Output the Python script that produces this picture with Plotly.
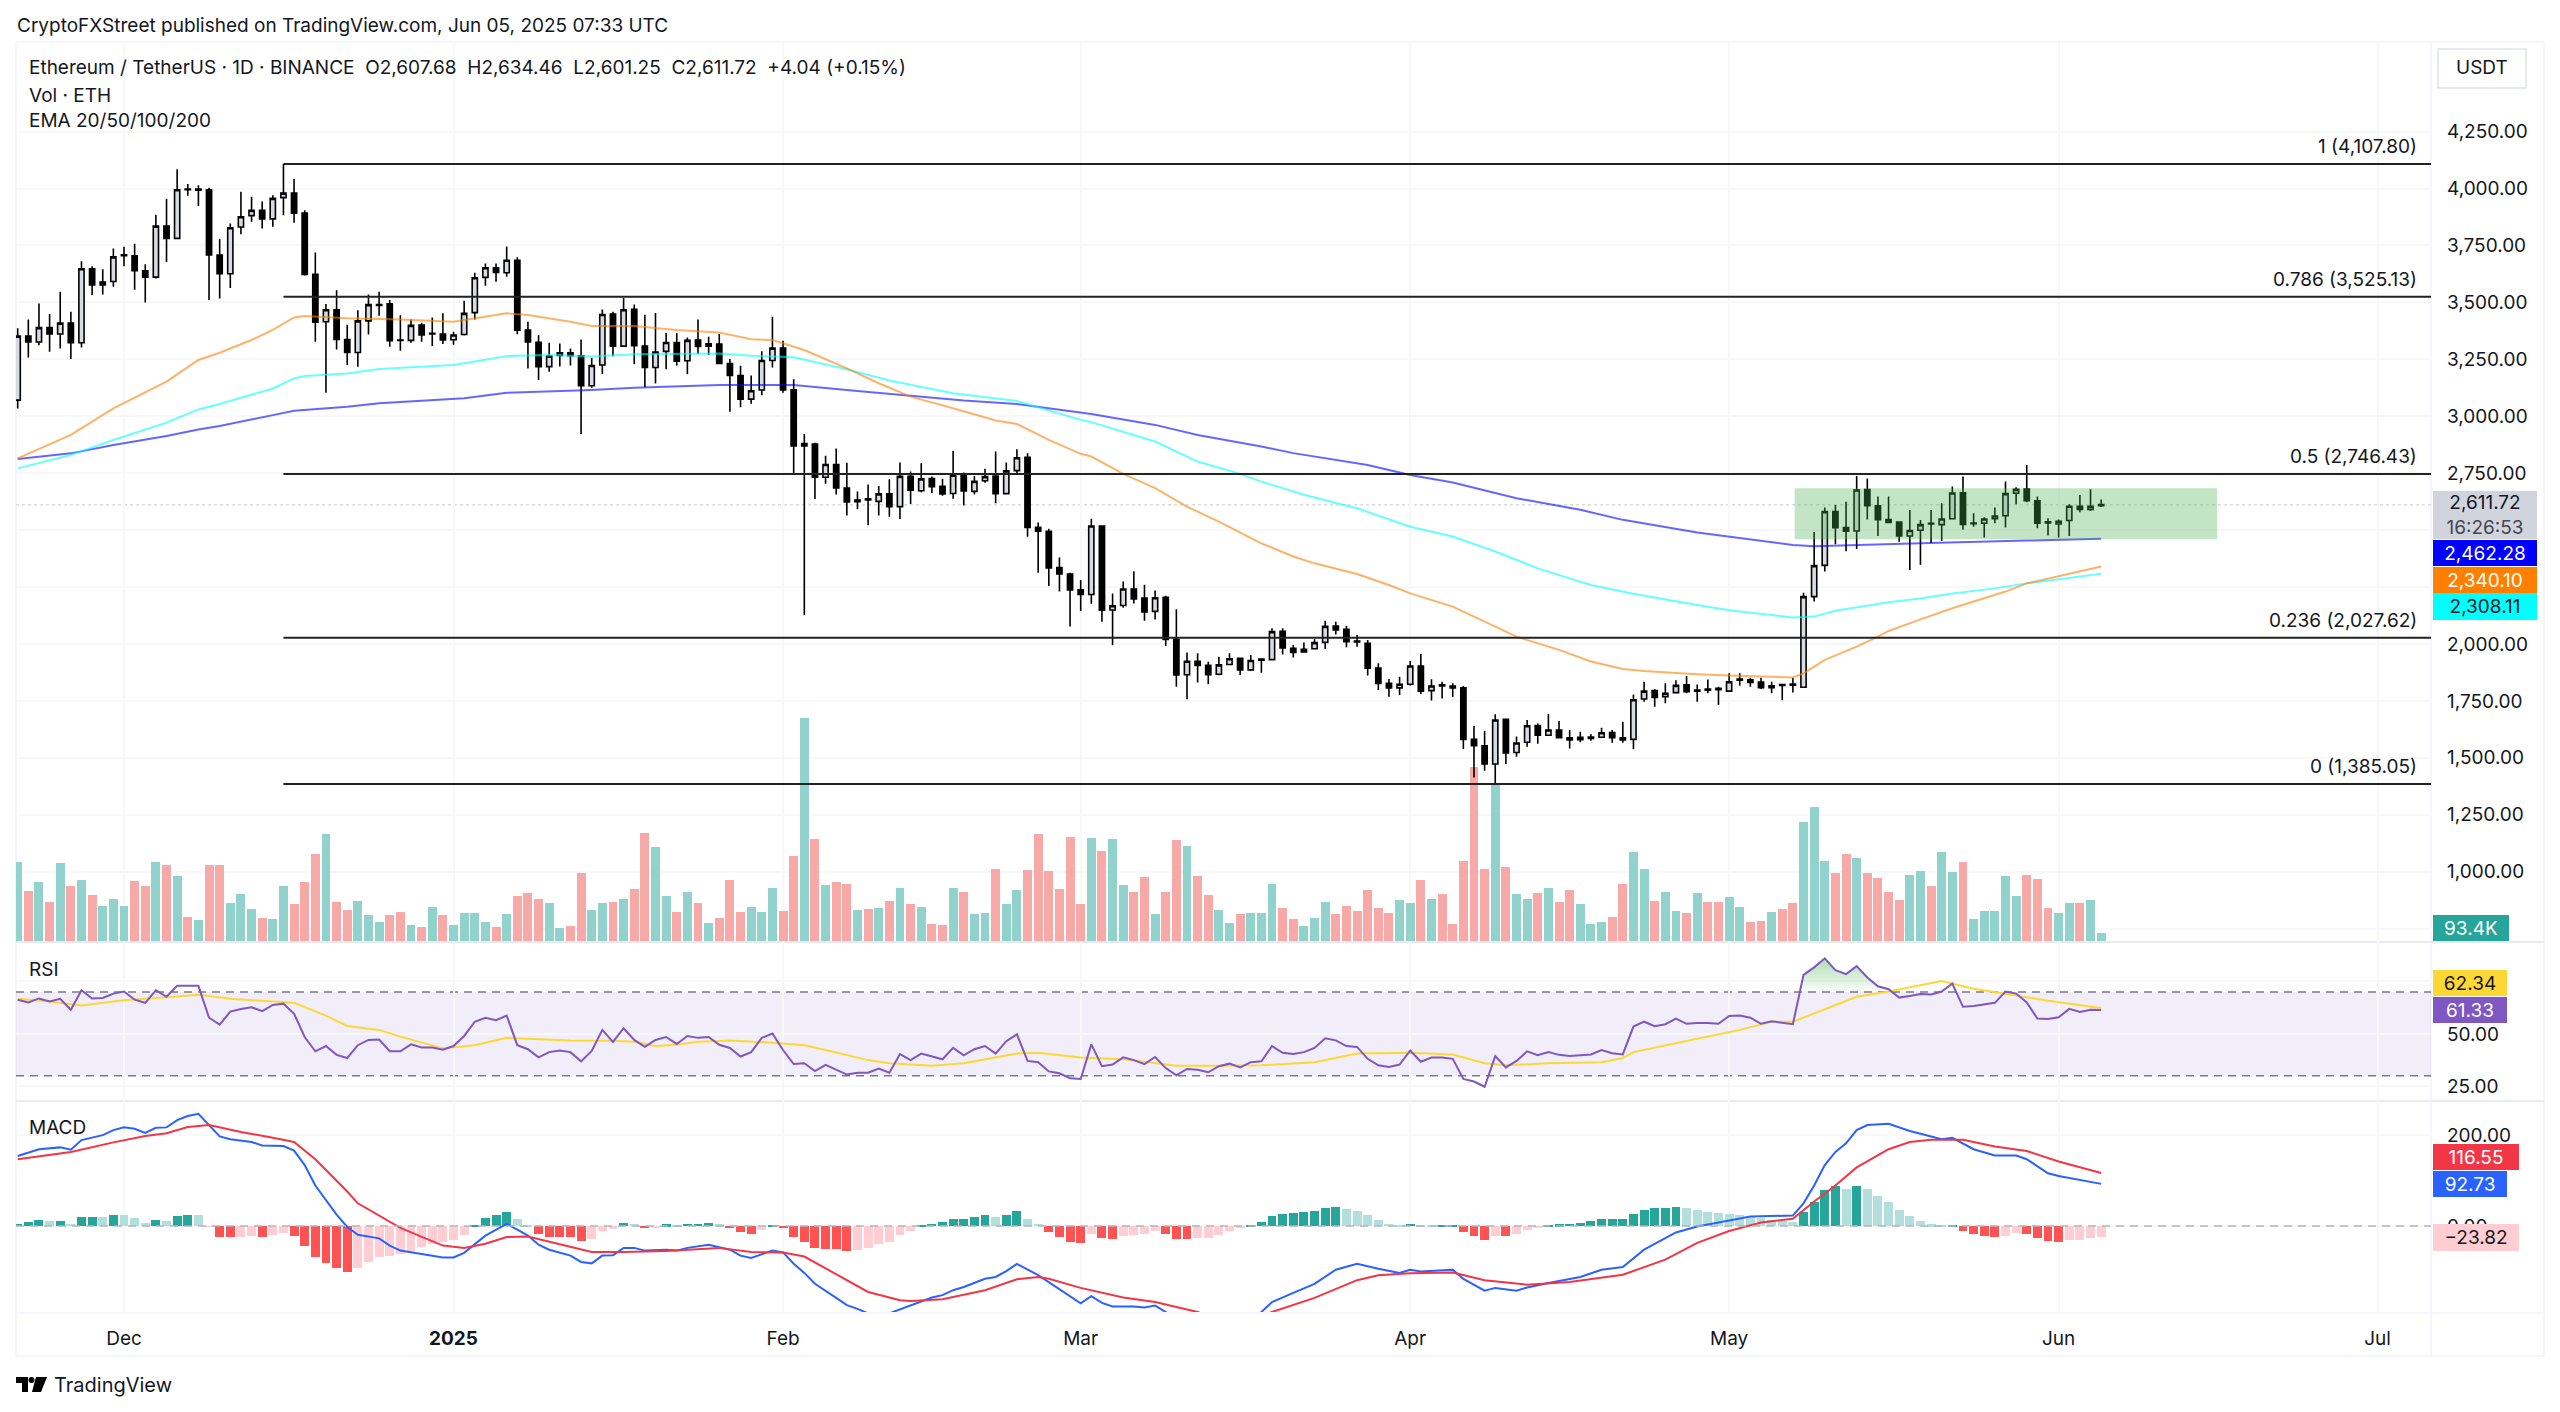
# Ethereum / TetherUS daily chart with EMA, volume, RSI and MACD panes
import pandas as pd
import plotly.graph_objects as go

W, H = 2560, 1412

# candles start on Nov 21 2024, one per day up to Jun 5 2025
days = pd.date_range("2024-11-21", periods=197, freq="D")
day0 = pd.Timestamp("2024-12-01")

opens = [
    3071, 3352, 3326, 3389, 3361, 3409, 3323, 3648, 3577, 3592,
    3705, 3705, 3639, 3611, 3835, 3781, 3995, 3998, 3995, 3708,
    3626, 3831, 3881, 3904, 3867, 3960, 3980, 3892, 3623, 3415,
    3468, 3337, 3280, 3419, 3487, 3494, 3335, 3333, 3400, 3364,
    3361, 3336, 3359, 3455, 3610, 3652, 3630, 3685, 3378, 3325,
    3218, 3267, 3279, 3265, 3134, 3225, 3449, 3308, 3470, 3308,
    3214, 3285, 3324, 3244, 3335, 3318, 3317, 3231, 3179, 3075,
    3115, 3245, 3299, 3116, 2869, 2878, 2732, 2788, 2685, 2632,
    2632, 2626, 2659, 2603, 2736, 2673, 2726, 2692, 2661, 2742,
    2670, 2717, 2737, 2660, 2761, 2820, 2512, 2495, 2335, 2307,
    2238, 2217, 2518, 2149, 2169, 2241, 2202, 2143, 2205, 2020,
    1865, 1924, 1906, 1867, 1910, 1937, 1886, 1929, 1931, 2055,
    1981, 1965, 1979, 2007, 2079, 2064, 2013, 2003, 1894, 1827,
    1807, 1823, 1903, 1795, 1815, 1815, 1807, 1581, 1553, 1473,
    1669, 1523, 1568, 1642, 1599, 1622, 1588, 1580, 1585, 1590,
    1611, 1588, 1581, 1758, 1795, 1768, 1786, 1821, 1793, 1797,
    1799, 1793, 1841, 1842, 1833, 1816, 1818, 1819, 1810, 2208,
    2345, 2581, 2511, 2496, 2678, 2607, 2546, 2535, 2474, 2499,
    2527, 2524, 2550, 2664, 2531, 2530, 2550, 2563, 2662, 2680,
    2629, 2531, 2527, 2542, 2605, 2591, 2607.68,
]
highs = [
    3386, 3425, 3495, 3449, 3547, 3459, 3681, 3659, 3646, 3737,
    3744, 3758, 3667, 3885, 3955, 4085, 4020, 4015, 4003, 3778,
    3847, 3986, 3964, 3943, 3971, 4107.8, 4042, 3905, 3719, 3493,
    3553, 3402, 3466, 3535, 3547, 3510, 3444, 3425, 3411, 3434,
    3452, 3371, 3507, 3630, 3671, 3671, 3745, 3698, 3415, 3357,
    3323, 3320, 3298, 3337, 3257, 3469, 3459, 3522, 3491, 3446,
    3453, 3367, 3364, 3346, 3425, 3349, 3361, 3251, 3222, 3179,
    3285, 3437, 3332, 3162, 2922, 2884, 2827, 2858, 2796, 2669,
    2700, 2694, 2723, 2797, 2757, 2794, 2735, 2726, 2849, 2753,
    2738, 2769, 2845, 2797, 2855, 2837, 2533, 2506, 2380, 2313,
    2281, 2550, 2521, 2222, 2274, 2319, 2260, 2235, 2212, 2152,
    1962, 1959, 1922, 1944, 1959, 1941, 1951, 1934, 2069, 2069,
    1995, 2006, 2022, 2102, 2098, 2080, 2039, 2017, 1915, 1846,
    1856, 1925, 1956, 1845, 1834, 1827, 1815, 1640, 1619, 1691,
    1672, 1593, 1666, 1651, 1692, 1662, 1622, 1614, 1603, 1632,
    1622, 1658, 1778, 1834, 1802, 1827, 1841, 1859, 1822, 1844,
    1812, 1871, 1871, 1852, 1852, 1834, 1822, 1852, 2225, 2492,
    2599, 2610, 2624, 2738, 2727, 2647, 2647, 2537, 2588, 2544,
    2588, 2618, 2691, 2735, 2574, 2556, 2599, 2713, 2688, 2786,
    2647, 2552, 2547, 2613, 2654, 2679, 2634.46,
]
lows = [
    3034, 3258, 3312, 3283, 3298, 3251, 3302, 3532, 3535, 3569,
    3659, 3556, 3500, 3605, 3677, 3778, 3968, 3923, 3510, 3517,
    3563, 3799, 3854, 3825, 3832, 3883, 3850, 3618, 3327, 3103,
    3293, 3225, 3217, 3359, 3441, 3305, 3288, 3323, 3327, 3308,
    3317, 3314, 3355, 3425, 3573, 3591, 3613, 3360, 3210, 3159,
    3195, 3218, 3223, 2922, 3125, 3185, 3264, 3305, 3228, 3127,
    3144, 3206, 3223, 3184, 3273, 3269, 3232, 3020, 3040, 3055,
    3092, 3214, 3103, 2749, 2127, 2637, 2703, 2656, 2564, 2591,
    2521, 2564, 2559, 2549, 2615, 2666, 2663, 2651, 2638, 2608,
    2656, 2708, 2618, 2656, 2746, 2471, 2313, 2255, 2230, 2077,
    2145, 2176, 2098, 1994, 2159, 2178, 2102, 2107, 1991, 1812,
    1757, 1831, 1823, 1863, 1907, 1864, 1881, 1874, 1929, 1954,
    1940, 1963, 1976, 1978, 2041, 1985, 1988, 1861, 1798, 1768,
    1776, 1818, 1780, 1752, 1760, 1767, 1539, 1413, 1443, 1385.05,
    1473, 1505, 1549, 1562, 1597, 1587, 1541, 1568, 1575, 1588,
    1566, 1566, 1538, 1746, 1724, 1739, 1783, 1783, 1746, 1783,
    1732, 1790, 1816, 1812, 1802, 1783, 1753, 1787, 1808, 2186,
    2318, 2438, 2407, 2417, 2547, 2474, 2533, 2449, 2325, 2348,
    2443, 2452, 2547, 2501, 2515, 2467, 2530, 2511, 2613, 2622,
    2508, 2476, 2468, 2474, 2578, 2584, 2601.25,
]
closes = [
    3352, 3326, 3389, 3361, 3409, 3323, 3648, 3577, 3589, 3700,
    3709, 3639, 3611, 3835, 3781, 3995, 3998, 3993, 3708, 3626,
    3828, 3876, 3904, 3867, 3957, 3980, 3892, 3623, 3413, 3468,
    3337, 3280, 3419, 3490, 3490, 3332, 3333, 3399, 3357, 3361,
    3335, 3357, 3452, 3608, 3652, 3632, 3685, 3378, 3326, 3218,
    3264, 3279, 3266, 3134, 3223, 3447, 3308, 3468, 3310, 3214,
    3282, 3324, 3242, 3333, 3307, 3308, 3232, 3179, 3075, 3112,
    3245, 3299, 3116, 2869, 2880, 2732, 2788, 2685, 2624, 2625,
    2637, 2659, 2603, 2736, 2675, 2725, 2691, 2659, 2741, 2672,
    2714, 2735, 2660, 2760, 2818, 2512, 2495, 2334, 2307, 2237,
    2217, 2518, 2148, 2168, 2241, 2198, 2140, 2203, 2020, 1864,
    1924, 1906, 1865, 1908, 1935, 1886, 1927, 1934, 2054, 1982,
    1963, 1976, 2006, 2077, 2061, 2010, 2009, 1894, 1827, 1807,
    1823, 1903, 1793, 1815, 1821, 1807, 1581, 1553, 1473, 1666,
    1521, 1565, 1641, 1599, 1622, 1588, 1578, 1590, 1591, 1610,
    1588, 1578, 1755, 1793, 1765, 1783, 1818, 1790, 1797, 1802,
    1805, 1834, 1846, 1831, 1808, 1808, 1822, 1824, 2208, 2344,
    2581, 2511, 2495, 2676, 2607, 2546, 2534, 2474, 2498, 2524,
    2530, 2549, 2663, 2525, 2528, 2549, 2562, 2660, 2679, 2629,
    2530, 2536, 2539, 2605, 2591, 2605, 2611.72,
]

# volume in thousands of ETH, t = green bar, r = red bar
volume = [
    916, 578, 691, 456, 902, 644, 714, 540, 409, 484,
    409, 696, 644, 916, 888, 761, 282, 249, 888, 888,
    447, 550, 376, 268, 259, 644, 432, 686, 1015, 1246,
    456, 357, 470, 306, 221, 301, 338, 183, 160, 400,
    301, 188, 329, 329, 226, 165, 320, 522, 559, 484,
    437, 155, 174, 794, 362, 447, 456, 494, 606, 1260,
    1090, 522, 338, 573, 437, 207, 263, 714, 338, 395,
    338, 616, 348, 987, 2590, 1184, 649, 686, 658, 362,
    376, 385, 470, 611, 432, 400, 197, 188, 611, 573,
    320, 329, 841, 432, 588, 827, 1241, 818, 606, 1213,
    428, 1194, 1043, 1180, 649, 569, 743, 320, 573, 1175,
    1100, 752, 540, 362, 207, 320, 329, 329, 658, 390,
    254, 174, 263, 456, 320, 409, 348, 597, 390, 324,
    475, 437, 714, 484, 550, 197, 926, 2021, 841, 1838,
    865, 550, 484, 559, 616, 456, 588, 428, 202, 226,
    277, 658, 1034, 841, 465, 569, 348, 329, 555, 456,
    456, 512, 395, 221, 235, 338, 371, 437, 1387, 1560,
    926, 785, 1006, 964, 785, 729, 573, 479, 766, 813,
    639, 1034, 804, 916, 254, 348, 353, 761, 526, 766,
    719, 381, 329, 447, 437, 479, 93.4,
]
volume_side = (
    "t r t r t r t r t t "
    "t r r t r t r t r r "
    "t t t r t t r r r t "
    "r r t t t r r t r t "
    "r t t t t r t r r r "
    "t t r r t t r t r r "
    "t t r t r t r r r t "
    "t t r r t r t r r t "
    "r t r t r t r r t r "
    "t t r t t r r r r r "
    "r t r t t r r t r r "
    "t r r t t r t t t r "
    "r t t t r r r r r r "
    "t t r t r r r r r t "
    "r t t r t r r t t t "
    "r r t t r t t r t r "
    "r t t r r t r r t t "
    "t r r t r r r r t t "
    "r t t r t t t t t r "
    "r r t t r t t"
).split()

# EMA lines, read every few days (offset in days from Dec 1)
ema50_days = [-10, -5, -1, 4, 7, 9, 12, 14, 16, 17, 21, 26, 31, 33, 36, 38, 42, 44, 48, 52, 56, 59, 61, 64, 68,
              71, 74, 78, 82, 84, 87, 90, 91, 94, 97, 100, 103, 107, 110, 112, 116, 119, 121, 125, 128, 131, 135,
              138, 141, 143, 148, 151, 157, 158, 160, 163, 165, 166, 169, 172, 177, 179, 186]
ema50 = [2815, 2918, 3035, 3152, 3247, 3279, 3335, 3379, 3434, 3440, 3430, 3425, 3415, 3430, 3452, 3445, 3415, 3396,
         3396, 3379, 3368, 3338, 3335, 3291, 3210, 3145, 3086, 3035, 2981, 2966, 2896, 2835, 2823, 2747, 2684, 2603,
         2537, 2442, 2384, 2354, 2307, 2259, 2222, 2164, 2098, 2032, 1974, 1923, 1890, 1881, 1867, 1861, 1853, 1871,
         1930, 1988, 2032, 2057, 2108, 2157, 2230, 2266, 2340.1]
ema100_days = [-10, -5, -1, 4, 7, 9, 14, 16, 17, 21, 24, 31, 33, 36, 40, 44, 48, 56, 59, 63, 68, 72, 78, 84, 90, 91,
               97, 101, 105, 107, 111, 116, 121, 125, 129, 133, 138, 142, 148, 151, 157, 159, 161, 166, 169, 172,
               176, 179, 186]
ema100 = [2771, 2830, 2896, 2972, 3030, 3054, 3122, 3166, 3177, 3188, 3207, 3225, 3240, 3264, 3269, 3262, 3272, 3276,
          3266, 3259, 3206, 3157, 3101, 3067, 2984, 2974, 2889, 2801, 2747, 2713, 2655, 2596, 2515, 2472, 2406, 2332,
          2259, 2220, 2171, 2148, 2116, 2120, 2146, 2183, 2200, 2222, 2244, 2266, 2308.11]
ema200_days = [-10, -5, -1, 4, 7, 9, 14, 16, 21, 24, 32, 36, 44, 48, 56, 63, 69, 74, 79, 84, 91, 97, 101, 107, 110,
               117, 121, 125, 131, 137, 141, 148, 157, 159, 163, 169, 179, 186]
ema200 = [2812, 2837, 2874, 2913, 2942, 2957, 3005, 3024, 3042, 3057, 3079, 3103, 3115, 3125, 3137, 3137, 3111, 3091,
          3069, 3054, 3010, 2962, 2918, 2867, 2838, 2786, 2742, 2709, 2640, 2589, 2545, 2489, 2435, 2429, 2435, 2442,
          2454, 2462.28]

# RSI, one value per candle
rsi = [
    66.3, 65, 66.9, 65.4, 66.7, 61.5, 70.8, 66.9, 67.1, 69.2,
    70.2, 66.3, 64.8, 70.8, 67.7, 72.9, 72.9, 72.9, 57.7, 54.4,
    60.6, 61.9, 62.7, 60.8, 63.8, 64.4, 59.6, 48.5, 41.7, 44.2,
    40, 38.5, 44.6, 47.1, 47.3, 41.7, 41.7, 45, 43.5, 43.5,
    42.5, 44.2, 49, 55.8, 57.7, 56.5, 58.7, 44.6, 42.7, 38.8,
    41.3, 42.1, 41.3, 36.9, 41.9, 51.9, 46.2, 52.7, 47.1, 43.8,
    47.1, 48.5, 45.2, 49, 48.1, 48.5, 44.8, 43.3, 39.2, 41.3,
    48.1, 50.2, 42.3, 35.6, 36, 32.3, 35.2, 32.7, 30.6, 31.5,
    31.5, 33.5, 31.5, 40.4, 37.5, 40.6, 39.2, 37.9, 43.3, 39.8,
    42.7, 44.2, 40.6, 46.5, 49.8, 37.1, 36.5, 32.1, 31.2, 28.8,
    28.5, 45, 34.6, 35.4, 38.8, 37.5, 35.6, 39, 33.7, 30.2,
    33.3, 32.9, 31.7, 34.6, 35.8, 34, 36.5, 36.9, 44.2, 41,
    40.4, 41.3, 43.3, 47.9, 46.9, 44.2, 43.8, 38.1, 35, 34.2,
    35.4, 42.1, 36.7, 38.7, 38.7, 38.1, 28.5, 27.3, 24.8, 39.4,
    34, 37.1, 41.7, 39.8, 41.3, 40, 39.4, 39.8, 40.2, 42.3,
    40.8, 40.2, 53.5, 55.8, 53.7, 54.6, 57.3, 54.8, 55.2, 55.2,
    54.8, 58.5, 58.8, 57.7, 54.8, 56, 55.4, 54.6, 78.1, 81.7,
    86, 80.4, 78.5, 82.3, 76.9, 72.7, 71.3, 67.3, 68.1, 69,
    68.8, 70.2, 74, 62.9, 63.3, 64.2, 64.8, 70.2, 69.2, 65,
    57.3, 57.1, 57.9, 61.9, 60.4, 61.5, 61.33,
]
rsi_ma_days = [-10, -7, -4, 0, 3, 7, 10, 12, 16, 19, 21, 24, 26, 30, 33, 36, 38, 42, 46, 48, 50, 52, 54, 57, 61,
               64, 66, 70, 72, 76, 79, 84, 86, 90, 94, 99, 103, 107, 112, 116, 121, 125, 128, 130, 134, 139, 141,
               142, 148, 152, 155, 157, 163, 166, 171, 174, 178, 181, 186]
rsi_ma = [66.7, 65.4, 63.5, 66, 67.1, 68.7, 66.7, 66, 64.8, 58.7, 53.8, 51.9, 48.7, 43.1, 44.6, 48.1, 47.7, 46.9,
          46.7, 46.2, 44.2, 44.8, 46.2, 46.9, 45.8, 44.6, 42.3, 37.5, 36, 34.8, 36, 40.6, 41, 38.7, 37.9, 34.8, 34.8,
          35, 36.5, 40.6, 41, 40.2, 36, 35, 36, 36.5, 38.5, 41.3, 47.7, 51.9, 55.8, 55.8, 67.7, 70.2, 75.2, 71.5,
          68.3, 65.8, 62.34]

# MACD pane. The stretches below the pane are guesses, they only get clipped
macd_days = [-10, -8, -6, -5, -4, -2, -1, 0, 1, 2, 3, 4, 5, 6, 7, 8, 9, 10, 12, 13, 15, 16, 17, 18, 19, 20, 21, 22,
             24, 25, 26, 28, 30, 31, 32, 34, 35, 36, 37, 38, 39, 40, 42, 43, 44, 45, 46, 47, 48, 49, 51, 52, 53, 55,
             57, 58, 59, 61, 62, 63, 64, 65, 67, 68, 69, 70, 72, 74, 76, 77, 78, 79, 81, 82, 83, 84, 86, 90, 91, 92,
             93, 95, 96, 97, 98, 100, 102, 104, 106, 107, 108, 110, 112, 114, 116, 118, 120, 121, 122, 125, 126, 128,
             129, 131, 132, 134, 137, 139, 141, 143, 144, 146, 148, 150, 151, 153, 157, 158, 159, 160, 161, 162, 163,
             164, 166, 168, 170, 171, 172, 174, 176, 178, 179, 181, 182, 186]
macd_line = [154, 169, 173, 168, 189, 200, 211, 217, 214, 205, 216, 217, 233, 242, 247, 222, 197, 191, 185, 177, 176,
             166, 134, 89, 58, 25, -2, -19, -27, -43, -54, -62, -69, -69, -59, -21, -8, 5, -8, -21, -41, -52, -65, -79,
             -82, -65, -64, -48, -48, -54, -52, -54, -48, -41, -52, -65, -70, -54, -58, -83, -103, -127, -158, -174,
             -182, -192, -192, -174, -157, -152, -141, -134, -116, -112, -99, -83, -108, -170, -154, -169, -177, -177,
             -179, -175, -189, -225, -245, -245, -215, -189, -167, -147, -127, -96, -83, -94, -103, -96, -100, -96,
             -116, -142, -136, -142, -135, -125, -112, -96, -90, -52, -39, -14, -1, 7, 12, 21, 23, 50, 89, 134, 163,
             182, 211, 222, 225, 209, 196, 191, 194, 169, 155, 155, 147, 116, 110, 92.73]
signal_days = [-10, -5, -1, 2, 4, 6, 8, 11, 14, 16, 18, 21, 22, 25, 26, 30, 32, 34, 36, 38, 42, 44, 47, 51, 56, 59,
               62, 64, 70, 73, 74, 77, 81, 84, 86, 87, 90, 94, 97, 101, 104, 106, 108, 112, 116, 118, 121, 125, 128,
               132, 136, 141, 145, 148, 151, 154, 157, 159, 161, 163, 166, 168, 170, 173, 176, 179, 182, 186]
signal_line = [147, 163, 184, 198, 204, 218, 222, 207, 194, 185, 147, 76, 50, 10, -4, -43, -48, -39, -24, -23, -46,
               -57, -57, -55, -48, -57, -58, -67, -145, -163, -165, -161, -141, -117, -112, -116, -136, -157, -167,
               -189, -215, -205, -189, -158, -119, -108, -104, -102, -119, -129, -123, -107, -74, -37, -11, 8, 16, 54,
               89, 129, 169, 185, 190, 190, 175, 165, 142, 116.55]
macd_hist = [
    5, 8, 14, 11, 11, 5, 19, 20, 20, 24,
    24, 17, 7, 14, 12, 22, 24, 24, -2, -23,
    -25, -23, -21, -23, -20, -15, -21, -44, -69, -81,
    -92, -101, -92, -79, -68, -66, -62, -54, -46, -39,
    -36, -30, -19, 3, 17, 25, 32, 15, 3, -18,
    -23, -24, -24, -33, -29, -11, -6, 7, 5, -4,
    -3, 4, 2, 5, 5, 7, 4, -4, -14, -18,
    -8, 2, -5, -25, -34, -48, -50, -50, -55, -53,
    -49, -40, -35, -19, -11, 1, 5, 8, 16, 16,
    21, 25, 21, 25, 34, 16, 5, -12, -23, -34,
    -37, -18, -27, -29, -22, -20, -18, -11, -18, -28,
    -28, -27, -27, -19, -11, -5, 3, 10, 22, 27,
    29, 31, 33, 39, 41, 37, 34, 25, 14, 5,
    3, 5, 2, 3, 3, 3, -12, -21, -30, -21,
    -21, -17, -8, -4, 3, 4, 5, 7, 12, 15,
    15, 15, 27, 35, 39, 39, 42, 39, 35, 32,
    29, 27, 24, 21, 17, 14, 12, 9, 32, 53,
    80, 87, 82, 88, 81, 67, 53, 36, 22, 12,
    4, 2, 1, -11, -18, -22, -23, -21, -16, -18,
    -27, -32, -35, -31, -30, -27, -23.82,
]
# T strong green, L light green, R strong red, P pale red
hist_kind = (
    "T T T L T L T T L T "
    "L L L T L T T L P R "
    "R P P R P P R R R R "
    "R R P P P P P P P P "
    "P P P T T T T L L R "
    "R R R R P P P T L R "
    "P T L T T T L R R R "
    "P T R R R R R R R P "
    "P P P P P T T T T T "
    "T T L T T L L R R R "
    "R P R R P P P P R R "
    "R P P P P P T T T T "
    "T T T T T L L L L L "
    "L T L L T T R R R P "
    "R P P P T T T T T T "
    "T T T T T T T L L L "
    "L L L L L L L L T T "
    "T T L T L L L L L L "
    "L L T R R R R P P R "
    "R R R P P P P"
).split()

fib_levels = [4107.80, 3525.13, 2746.43, 2027.62, 1385.05]
fib_labels = ["1 (4,107.80)", "0.786 (3,525.13)", "0.5 (2,746.43)", "0.236 (2,027.62)", "0 (1,385.05)"]
fib_start = "2024-12-16"

# ticks that sit under a value box in the original keep their gridline but no label
grid_only_ticks = [750, 2250, 2500]
price_ticks = [750, 1000, 1250, 1500, 1750, 2000, 2250, 2500, 2750, 3000, 3250, 3500, 3750, 4000, 4250]
price_tick_labels = ["" if t in grid_only_ticks else f"{t:,.2f}" for t in price_ticks]
rsi_ticks = [25, 50, 75]
rsi_tick_labels = ["25.00", "50.00", ""]
macd_ticks = [0, 200]
macd_tick_labels = ["0.00", "200.00"]
time_ticks = ["2024-12-01", "2025-01-01", "2025-02-01", "2025-03-01", "2025-04-01", "2025-05-01", "2025-06-01", "2025-07-01"]
time_labels = ["Dec", "<b>2025</b>", "Feb", "Mar", "Apr", "May", "Jun", "Jul"]

INK = "#131722"
FONT = "Inter"
FONT_SIZE = 19
GRID = "#f8f8fa"
SEP = "#e0e3eb"
X_RANGE = ["2024-11-20 20:10", "2025-07-06 00:43"]

vol_colors = {"t": "#92d2cc", "r": "#f7a9a7"}
hist_colors = {"T": "#26a69a", "L": "#b2dfdb", "R": "#ff5252", "P": "#ffcdd2"}


def offset_dates(offsets):
    return [day0 + pd.Timedelta(days=d) for d in offsets]


def fx(px):
    return px / W


def fy(px):
    return 1 - px / H


fig = go.Figure()

# volume sits on the base axis so that the candles draw over it
fig.add_trace(go.Bar(x=days, y=volume, yaxis="y", width=0.84 * 86400000,
                     marker=dict(color=[vol_colors[s] for s in volume_side], line=dict(width=0))))

fig.add_trace(go.Candlestick(
    x=days, open=opens, high=highs, low=lows, close=closes, yaxis="y4",
    whiskerwidth=0,
    increasing=dict(line=dict(color="#000000", width=1.6), fillcolor="#d8dbe2"),
    decreasing=dict(line=dict(color="#000000", width=1.6), fillcolor="#000000"),
))

ema_styles = [
    (ema200_days, ema200, "rgba(0,0,255,0.6)"),
    (ema100_days, ema100, "rgba(0,255,255,0.6)"),
    (ema50_days, ema50, "rgba(255,127,0,0.6)"),
]
for ema_days, ema_values, ema_color in ema_styles:
    fig.add_trace(go.Scatter(x=offset_dates(ema_days), y=ema_values, yaxis="y4", mode="lines",
                             line=dict(color=ema_color, width=2)))

# fibonacci levels
for level in fib_levels:
    fig.add_trace(go.Scatter(x=[fib_start, X_RANGE[1]], y=[level, level], yaxis="y4", mode="lines",
                             line=dict(color="#222222", width=2)))

# RSI pane
fig.add_trace(go.Scatter(x=offset_dates(rsi_ma_days), y=rsi_ma, xaxis="x", yaxis="y2", mode="lines",
                         line=dict(color="#fdd835", width=2)))
# overbought fill, d158 to d166
ob_first, ob_last = 168, 177
fig.add_trace(go.Scatter(
    x=[days[ob_first]] + list(days[ob_first:ob_last]) + [days[ob_last - 1]],
    y=[70] + rsi[ob_first:ob_last] + [70],
    xaxis="x", yaxis="y2", mode="none", fill="toself",
    fillgradient=dict(type="vertical", colorscale=[[0, "rgba(76,175,80,0.03)"], [1, "rgba(76,175,80,0.45)"]]),
))
fig.add_trace(go.Scatter(x=days, y=rsi, xaxis="x", yaxis="y2", mode="lines",
                         line=dict(color="#7e57c2", width=2)))

# MACD pane
fig.add_trace(go.Bar(x=days, y=macd_hist, xaxis="x", yaxis="y3", width=0.84 * 86400000,
                     marker=dict(color=[hist_colors[k] for k in hist_kind], line=dict(width=0))))
fig.add_trace(go.Scatter(x=offset_dates(macd_days), y=macd_line, xaxis="x", yaxis="y3", mode="lines",
                         line=dict(color="#2962ff", width=2)))
fig.add_trace(go.Scatter(x=offset_dates(signal_days), y=signal_line, xaxis="x", yaxis="y3", mode="lines",
                         line=dict(color="#f23645", width=2)))

shapes = []


def frame_line(x0, y0, x1, y1, color=SEP, width=1.5):
    shapes.append(dict(type="line", xref="paper", yref="paper", x0=fx(x0), y0=fy(y0), x1=fx(x1), y1=fy(y1),
                       line=dict(color=color, width=width), layer="below"))


# frame and pane separators
frame_line(16, 42, 2544, 42, "#f0f3fa")
frame_line(16, 1356, 2544, 1356, "#f0f3fa")
frame_line(16, 42, 16, 1356, "#f0f3fa")
frame_line(2544, 42, 2544, 1356, "#f0f3fa")
frame_line(2431, 42, 2431, 1356, "#f0f3fa")
frame_line(16, 942, 2544, 942)
frame_line(16, 1101, 2544, 1101)
frame_line(16, 1313, 2544, 1313, "#f0f3fa")

# RSI band and its dashed levels
shapes.append(dict(type="rect", xref="x domain", yref="y2", x0=0, x1=1, y0=30, y1=70,
                   fillcolor="rgba(126,87,194,0.1)", line=dict(width=0), layer="below"))
for level, dash_color in [(70, "#787b86"), (50, "#b2b5be"), (30, "#787b86")]:
    shapes.append(dict(type="line", xref="x domain", yref="y2", x0=0, x1=1, y0=level, y1=level,
                       line=dict(color=dash_color, width=1.5, dash="8px,6px"), layer="below"))
shapes.append(dict(type="line", xref="x domain", yref="y3", x0=0, x1=1, y0=0, y1=0,
                   line=dict(color="#b2b5be", width=1.5, dash="8px,6px"), layer="above"))

# last price dotted line
shapes.append(dict(type="line", xref="x domain", yref="y4", x0=0, x1=1, y0=closes[-1], y1=closes[-1],
                   line=dict(color="#d8dbe2", width=1.5, dash="dot"), layer="below"))

# green consolidation box
shapes.append(dict(type="rect", xref="x", yref="y4", x0="2025-05-07 04:00", x1="2025-06-15 22:00",
                   y0=2460, y1=2684, fillcolor="rgba(76,175,80,0.33)", line=dict(width=0), layer="above"))

# price scale currency box
shapes.append(dict(type="rect", xref="paper", yref="paper", x0=fx(2438), x1=fx(2526), y0=fy(49), y1=fy(88),
                   line=dict(color=SEP, width=1.5), fillcolor="white"))

# TradingView logo
logo_paths = [
    [(16, 1377), (28, 1377), (28, 1392), (22, 1392), (22, 1383), (16, 1383)],
    [(36, 1377), (47, 1377), (41, 1392), (32, 1392)],
]
for pts in logo_paths:
    path = "M " + " L ".join(f"{fx(a):.5f},{fy(b):.5f}" for a, b in pts) + " Z"
    shapes.append(dict(type="path", xref="paper", yref="paper", path=path, fillcolor="#000000", line=dict(width=0)))
shapes.append(dict(type="circle", xref="paper", yref="paper", x0=fx(28.5), x1=fx(34.5), y0=fy(1377), y1=fy(1383),
                   fillcolor="#000000", line=dict(width=0)))

annotations = []


def text_at(x, y, text, size=FONT_SIZE, color=INK, anchor="left"):
    annotations.append(dict(xref="paper", yref="paper", x=fx(x), y=fy(y), text=text, showarrow=False,
                            xanchor=anchor, yanchor="middle", borderpad=0,
                            font=dict(family=FONT, size=size, color=color)))


def value_box(x0, x1, y0, y1, text, bg, color):
    annotations.append(dict(xref="paper", yref="paper", x=fx(x0), y=fy(y0), text=text, showarrow=False,
                            xanchor="left", yanchor="top", width=x1 - x0, height=y1 - y0, align="center",
                            valign="middle", bgcolor=bg, borderpad=0, borderwidth=0,
                            font=dict(family=FONT, size=FONT_SIZE, color=color)))


text_at(16, 25, "CryptoFXStreet published on TradingView.com, Jun 05, 2025 07:33 UTC")
text_at(28, 68, "Ethereum / TetherUS · 1D · BINANCE  O2,607.68  H2,634.46  L2,601.25  C2,611.72  +4.04 (+0.15%)".replace("  ", "&nbsp;&nbsp;"))
text_at(28, 95, "Vol · ETH")
text_at(28, 121, "EMA 20/50/100/200")
text_at(28, 969, "RSI")
text_at(28, 1127, "MACD")
text_at(53, 1385, "TradingView", size=20)
text_at(2482, 68, "USDT", anchor="center")

for level, label in zip(fib_levels, fib_labels):
    annotations.append(dict(xref="paper", yref="y4", x=fx(2418), y=level, text=label, showarrow=False,
                            xanchor="right", yanchor="bottom", yshift=5, borderpad=0,
                            font=dict(family=FONT, size=FONT_SIZE, color=INK)))

value_box(2433, 2537, 491, 539, "2,611.72<br><span style='color:#434651'>16:26:53</span>", "#d1d4dc", INK)
value_box(2433, 2537, 540, 566, "2,462.28", "#0000ff", "white")
value_box(2433, 2537, 567, 593, "2,340.10", "#ff7f00", "white")
value_box(2433, 2537, 593, 620, "2,308.11", "#00ffff", INK)
value_box(2433, 2509, 915, 941, "93.4K", "#26a69a", "white")
value_box(2433, 2507, 970, 996, "62.34", "#fdd835", INK)
value_box(2433, 2507, 997, 1023, "61.33", "#7e57c2", "white")
value_box(2433, 2519, 1144, 1170, "116.55", "#f23645", "white")
value_box(2433, 2507, 1171, 1197, "92.73", "#2962ff", "white")
value_box(2433, 2519, 1224, 1251, "−23.82", "#ffcdd2", INK)

tick_font = dict(family=FONT, size=FONT_SIZE, color=INK)
right_axis = dict(side="right", anchor="x", showline=False, zeroline=False, ticks="", showgrid=True,
                  gridcolor=GRID, gridwidth=1.5, tickfont=tick_font,
                  ticklabelstandoff=15, automargin=False)

fig.update_layout(
    width=W, height=H,
    margin=dict(l=0, r=0, t=0, b=0),
    paper_bgcolor="white", plot_bgcolor="white",
    showlegend=False, bargap=0, hovermode=False, dragmode=False,
    shapes=shapes, annotations=annotations,
    xaxis=dict(type="date", domain=[fx(16), fx(2431)], range=X_RANGE, anchor="free", position=fy(1313),
               rangeslider=dict(visible=False), showgrid=True, gridcolor=GRID, gridwidth=1.5,
               tickvals=time_ticks, ticktext=time_labels, ticks="", showline=False, zeroline=False,
               tickfont=tick_font, ticklabelstandoff=12, automargin=False),
    yaxis=dict(domain=[fy(942), fy(42)], range=[-10, 10430], visible=False, fixedrange=True),
    yaxis4=dict(right_axis, domain=[fy(942), fy(42)], overlaying="y", range=[691, 4643.6],
                tickvals=price_ticks, ticktext=price_tick_labels),
    yaxis2=dict(right_axis, domain=[fy(1101), fy(942)], range=[18, 93.8],
                tickvals=rsi_ticks, ticktext=rsi_tick_labels),
    yaxis3=dict(right_axis, domain=[fy(1312), fy(1101)], range=[-189, 275],
                tickvals=macd_ticks, ticktext=macd_tick_labels),
)

fig.write_html("out.html", config=dict(displayModeBar=False),
               post_script="document.body.style.margin='0';document.body.style.overflow='hidden';")
